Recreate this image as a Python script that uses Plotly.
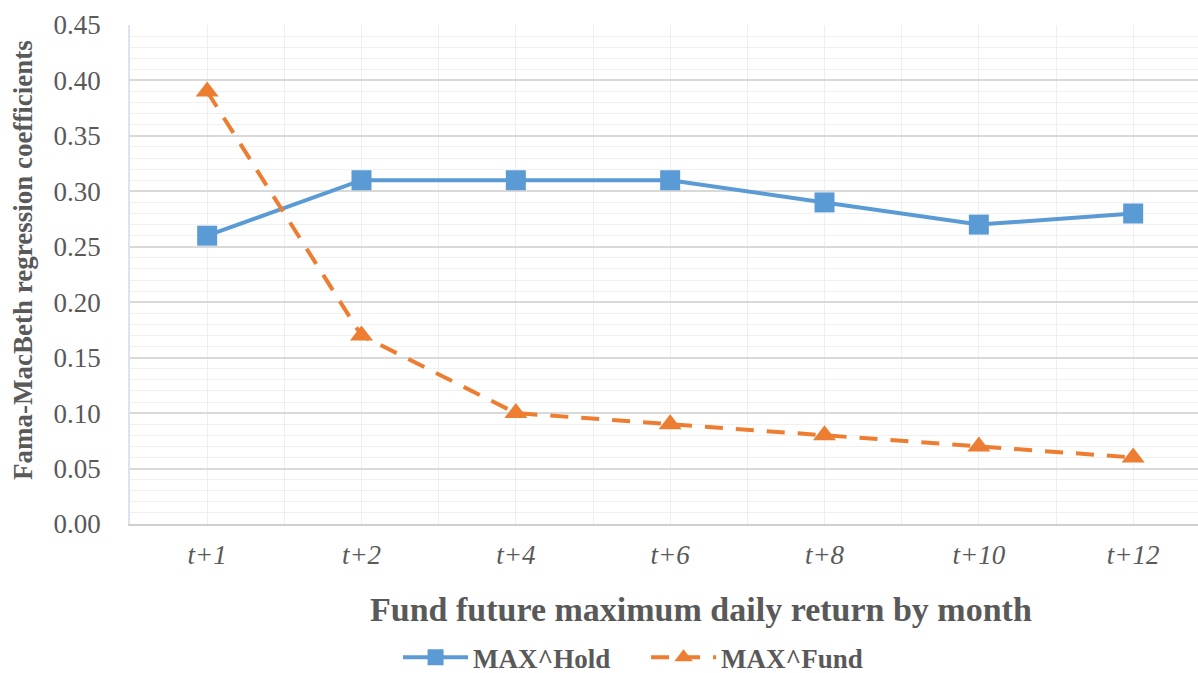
import plotly.graph_objects as go

categories = ["t+1", "t+2", "t+4", "t+6", "t+8", "t+10", "t+12"]
max_hold = [0.26, 0.31, 0.31, 0.31, 0.29, 0.27, 0.28]
max_fund = [0.39, 0.17, 0.10, 0.09, 0.08, 0.07, 0.06]
y_ticks = [0.00, 0.05, 0.10, 0.15, 0.20, 0.25, 0.30, 0.35, 0.40, 0.45]

xpos = list(range(len(categories)))
FONT = "Liberation Serif"
GREY = "#595959"

fig = go.Figure()
fig.add_trace(go.Scatter(
    x=xpos, y=max_hold, name="MAX^Hold", mode="lines+markers",
    line=dict(color="#5b9bd5", width=4),
    marker=dict(symbol="square", size=20, color="#5b9bd5"),
))
fig.add_trace(go.Scatter(
    x=xpos, y=max_fund, name="MAX^Fund", mode="lines+markers",
    line=dict(color="#ed7d31", width=4, dash="18px,13px"),
    marker=dict(symbol="triangle-up", size=20, color="#ed7d31"),
))

fig.update_layout(
    width=1198, height=673,
    margin=dict(l=130, r=0, t=25, b=149, autoexpand=False),
    paper_bgcolor="white", plot_bgcolor="white",
    showlegend=True,
    legend=dict(
        orientation="h", x=0.251, xanchor="left", y=-0.268, yanchor="middle",
        font=dict(family=FONT, size=27, color=GREY, weight="bold"),
        itemwidth=65, entrywidth=168, tracegroupgap=0, bgcolor="rgba(0,0,0,0)",
    ),
    xaxis=dict(
        range=[-0.5, 6.42], tickmode="array", tickvals=xpos, ticktext=categories,
        automargin=False,
        showgrid=True, gridcolor="#efefef", gridwidth=1,
        minor=dict(tick0=-0.5, dtick=1, showgrid=True, gridcolor="#efefef", gridwidth=1),
        showline=True, linecolor="#d0d0d0", linewidth=2,
        zeroline=False, ticks="",
        tickfont=dict(family=FONT, size=27, color=GREY, style="italic"),
        ticklabelstandoff=6,
    ),
    yaxis=dict(
        range=[0, 0.45], tickmode="array", tickvals=y_ticks, tickformat=".2f",
        automargin=False,
        showgrid=True, gridcolor="#d9d9d9", gridwidth=1.5,
        minor=dict(dtick=0.01, showgrid=True, gridcolor="#f0f0f0", gridwidth=1),
        showline=True, linecolor="#dde3ec", linewidth=1.5,
        zeroline=False, ticks="",
        tickfont=dict(family=FONT, size=27, color=GREY),
        ticklabelstandoff=22,
    ),
    annotations=[
        dict(text="<b>Fund future maximum daily return by month</b>",
             xref="paper", yref="paper", x=0.535, y=-0.172,
             xanchor="center", yanchor="middle", showarrow=False,
             font=dict(family=FONT, size=34, color=GREY)),
        dict(text="<b>Fama-MacBeth regression coefficients</b>",
             xref="paper", yref="paper", x=-0.1002, y=0.529, textangle=-90,
             xanchor="center", yanchor="middle", showarrow=False,
             font=dict(family=FONT, size=27, color=GREY)),
    ],
)

fig.write_html("out.html", config={"displayModeBar": False},
               post_script="document.body.style.margin='0';")
